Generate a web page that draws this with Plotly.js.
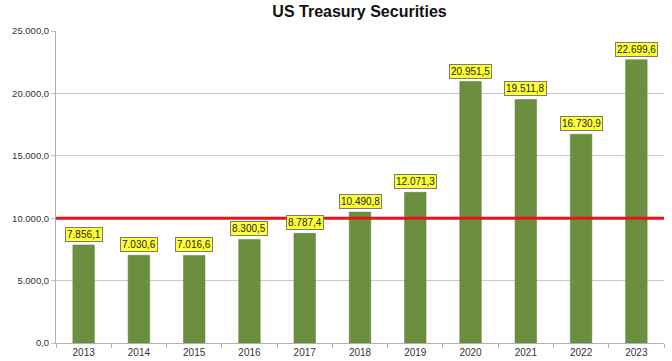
<!DOCTYPE html>
<html><head><meta charset="utf-8">
<script src="https://cdn.plot.ly/plotly-3.0.1.min.js"></script>
<style>html,body{margin:0;padding:0;background:#fff}#chart{width:672px;height:361px}</style>
</head><body><div id="chart"></div>
<script>
const years = ["2013","2014","2015","2016","2017","2018","2019","2020","2021","2022","2023"];
const values = [7856.1, 7030.6, 7016.6, 8300.5, 8787.4, 10490.8, 12071.3, 20951.5, 19511.8, 16730.9, 22699.6];
const threshold = 10000;
const chartTitle = "US Treasury Securities";

function fmt(v){
  const parts = v.toFixed(1).split(".");
  parts[0] = parts[0].replace(/\B(?=(\d{3})+(?!\d))/g, ".");
  return parts[0] + "," + parts[1];
}

const bars = {
  type: "bar", x: years, y: values,
  marker: {color: "#6b8f3f", line: {color: "#5f8036", width: 0.5}},
  width: 0.39, hoverinfo: "x+y"
};

const annotations = years.map((yr, i) => ({
  x: i, y: values[i], xref: "x", yref: "y",
  text: fmt(values[i]), showarrow: false,
  yanchor: "bottom", yshift: 3,
  font: {family: "Liberation Sans, Arial, sans-serif", size: 10, color: "#222"},
  bgcolor: "#ffff33", bordercolor: "#7a7a7a", borderwidth: 1, borderpad: 1
}));

const layout = {
  width: 672, height: 361,
  margin: {l: 56, r: 8, t: 31, b: 18},
  paper_bgcolor: "#fff", plot_bgcolor: "#fff",
  separators: ",.",
  showlegend: false,
  title: {text: "<b>" + chartTitle + "</b>", x: 0.535, xanchor: "center", y: 0.985, yanchor: "top",
    font: {family: "Liberation Sans, Arial, sans-serif", size: 16, color: "#111"}},
  xaxis: {type: "category", range: [-0.5, years.length - 0.5], autorange: false,
    tickson: "boundaries", ticks: "outside", ticklen: 4, tickcolor: "#b0b0b0",
    showline: true, linecolor: "#b0b0b0", linewidth: 1, showgrid: false,
    tickfont: {family: "Liberation Sans, Arial, sans-serif", size: 10, color: "#333"}},
  yaxis: {range: [0, 25000], autorange: false, dtick: 5000, tickformat: ",.1f", ticks: "outside", ticklen: 4, tickcolor: "#c0c0c0",
    showline: true, linecolor: "#b0b0b0", linewidth: 1,
    gridcolor: "#c8c8c8", gridwidth: 1, zeroline: false,
    tickfont: {family: "Liberation Sans, Arial, sans-serif", size: 9.5, color: "#333"}},
  shapes: [{type: "line", xref: "paper", x0: 0, x1: 1, yref: "y", y0: threshold, y1: threshold,
    line: {color: "#e8141c", width: 3}}],
  annotations: annotations
};

Plotly.newPlot("chart", [bars], layout, {displayModeBar: false, staticPlot: true});
</script></body></html>
